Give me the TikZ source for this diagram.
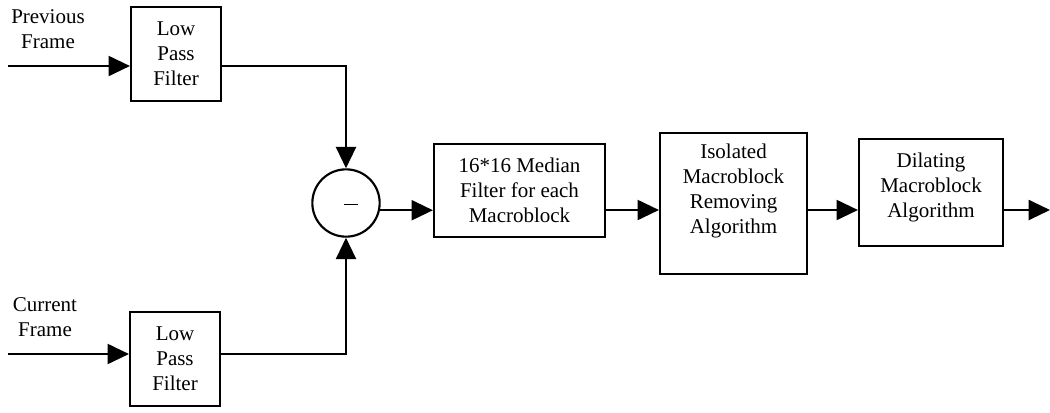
\documentclass[tikz,border=0pt]{standalone}
\usepackage{fontspec}
\setmainfont{Liberation Serif}
\usetikzlibrary{arrows.meta,calc}
\begin{document}
\begin{tikzpicture}[x=0.75pt,y=-0.75pt,
  every node/.style={font=\fontsize{15.75}{18.75}\selectfont},
  blk/.style={draw,line width=1.6pt,align=center,inner sep=0pt},
  lbl/.style={align=center,inner sep=0pt},
  arr/.style={line width=1.6pt,-{Triangle[length=16pt,width=15pt]}},
  ln/.style={line width=1.6pt}]
\useasboundingbox (0,0) rectangle (1050,412);
% inputs
\coordinate (in1) at (8,66);
\coordinate (in2) at (8,354);
\coordinate (ly) at (0,210);
\coordinate (out) at (1050,210);
\node[lbl] (prev) at (48,29.5) {Previous\\Frame};
\node[lbl] (curr) at (45,317.5) {Current\\Frame};
\node[blk,minimum width=67.5pt,minimum height=70.5pt] (lpf1) at (176,54) {Low\\Pass\\Filter};
\node[blk,minimum width=67.5pt,minimum height=70.5pt] (lpf2) at (175,359) {Low\\Pass\\Filter};
\node[draw,circle,line width=1.6pt,minimum size=50.5pt,inner sep=0pt] (sub) at (346,203) {};
\node[inner sep=0pt] (minus) at (351,204) {\rule{10pt}{0.6pt}};
\node[blk,minimum width=128.25pt,minimum height=69.75pt] (med) at (519.5,190.5) {16*16 Median\\Filter for each\\Macroblock};
\node[blk,minimum width=110.25pt,minimum height=105.75pt] (iso) at (733.5,203.5) {};
\node[lbl] (isot) at (733.5,191) {Isolated\\Macroblock\\Removing\\Algorithm};
\node[blk,minimum width=108pt,minimum height=80.25pt] (dil) at (931,192.5) {};
\node[lbl] (dilt) at (931,187) {Dilating\\Macroblock\\Algorithm};
% connectors
\draw[arr] (in1) -- (in1 -| lpf1.west);
\draw[arr] (in2) -- (in2 -| lpf2.west);
\draw[arr] (in1 -| lpf1.east) -| (sub.north);
\draw[arr] (in2 -| lpf2.east) -| (sub.south);
\draw[arr] (sub.-12) -- (sub.-12 -| med.west);
\draw[arr] (med.east |- ly) -- (iso.west |- ly);
\draw[arr] (iso.east |- ly) -- (dil.west |- ly);
\draw[arr] (dil.east |- ly) -- (out);
\end{tikzpicture}
\end{document}
